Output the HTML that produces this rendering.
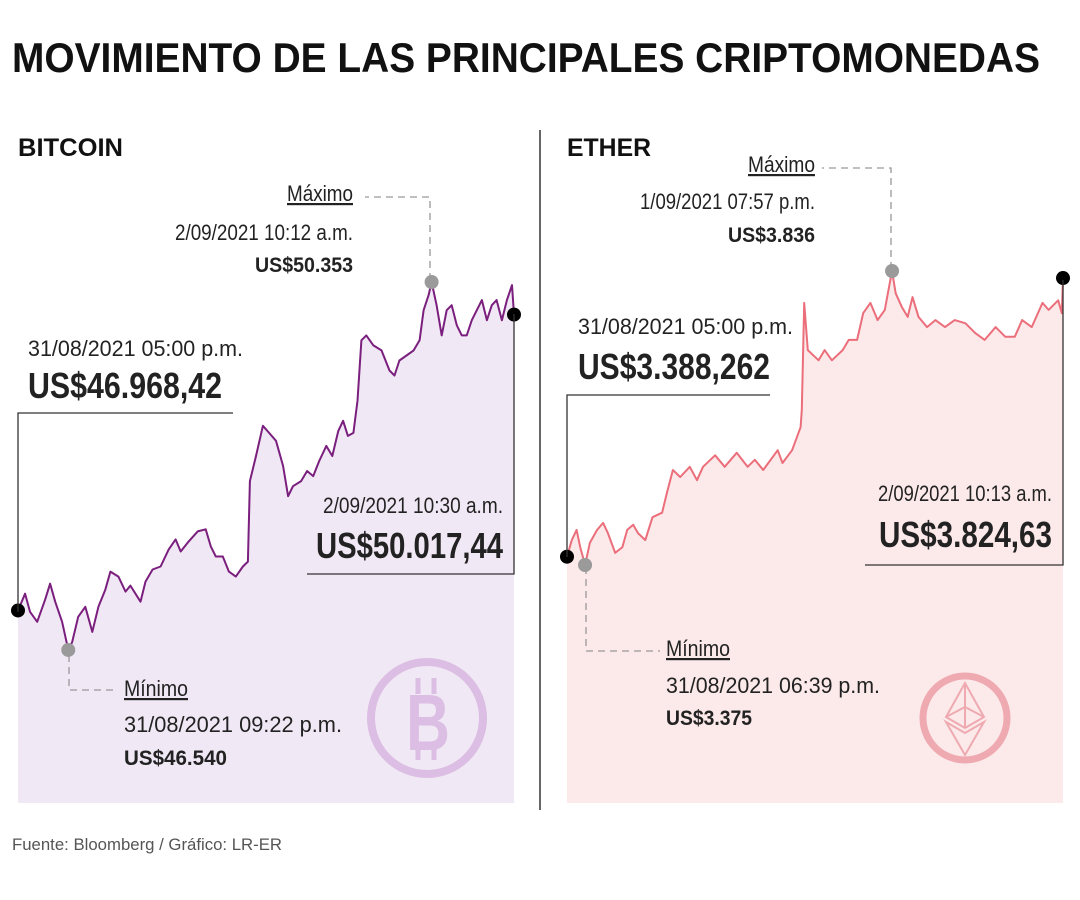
<!DOCTYPE html>
<html><head><meta charset="utf-8"><style>
html,body{margin:0;padding:0;background:#fff;}
svg{display:block;font-family:"Liberation Sans Narrow","Liberation Sans",sans-serif;}
.b{font-weight:bold;}
</style></head><body>
<svg id="c" width="1080" height="900" viewBox="0 0 1080 900">
<text x="12" y="72" font-size="42" class="b" textLength="1028" lengthAdjust="spacingAndGlyphs" fill="#111">MOVIMIENTO DE LAS PRINCIPALES CRIPTOMONEDAS</text>
<text x="18" y="156" font-size="25" class="b" textLength="105" lengthAdjust="spacingAndGlyphs" fill="#111">BITCOIN</text>
<text x="567" y="156" font-size="25" class="b" textLength="84" lengthAdjust="spacingAndGlyphs" fill="#111">ETHER</text>
<line x1="540" y1="130" x2="540" y2="810" stroke="#333" stroke-width="1.5"/>
<g id="btc"></g>
<g id="eth"></g>
<g id="ann">
 <circle cx="427" cy="718" r="56" fill="none" stroke="#dcbde3" stroke-width="8"/>
 <text x="428" y="750" font-size="80" class="b" text-anchor="middle" fill="#dcbde3" textLength="44" lengthAdjust="spacingAndGlyphs" font-family="Liberation Sans,sans-serif">B</text>
 <g stroke="#dcbde3" stroke-width="5">
  <line x1="418" y1="678" x2="418" y2="694"/><line x1="434" y1="678" x2="434" y2="694"/>
  <line x1="418" y1="746" x2="418" y2="760"/><line x1="434" y1="746" x2="434" y2="760"/>
 </g>
 <g fill="none" stroke="#eeaab0" stroke-width="2">
  <circle cx="965" cy="718" r="42" stroke-width="7"/>
  <polygon points="965,683 946,717 965,728 984,717"/>
  <polyline points="946,717 965,707 984,717"/>
  <line x1="965" y1="683" x2="965" y2="728"/>
  <polygon points="946,722 965,755 984,722 965,733"/>
 </g>
 <g stroke="#999" stroke-dasharray="7,5" fill="none" stroke-width="1.3">
  <polyline points="430,280 430,197 365,197"/>
  <polyline points="69,655 69,690 118,690"/>
  <polyline points="891,269 891,168 822,168"/>
  <polyline points="586,567 586,651 660,651"/>
 </g>
 <g stroke="#333" fill="none" stroke-width="1.3">
  <polyline points="18,612 18,413 233,413"/>
  <polyline points="514,314 514,574 307,574"/>
  <polyline points="567,557 567,395 770,395"/>
  <polyline points="1063,280 1063,565 865,565"/>
 </g>
 <g fill="#222" font-size="22">
  <text x="287" y="201" textLength="66" lengthAdjust="spacingAndGlyphs" text-decoration="underline">Máximo</text>
  <text x="175" y="240" textLength="178" lengthAdjust="spacingAndGlyphs">2/09/2021 10:12 a.m.</text>
  <text x="255" y="272" textLength="98" lengthAdjust="spacingAndGlyphs" class="b" font-size="21">US$50.353</text>
  <text x="28" y="356" textLength="215" lengthAdjust="spacingAndGlyphs">31/08/2021 05:00 p.m.</text>
  <text x="28" y="398" class="b" font-size="36" textLength="194" lengthAdjust="spacingAndGlyphs">US$46.968,42</text>
  <text x="323" y="513" textLength="180" lengthAdjust="spacingAndGlyphs">2/09/2021 10:30 a.m.</text>
  <text x="316" y="558" class="b" font-size="36" textLength="187" lengthAdjust="spacingAndGlyphs">US$50.017,44</text>
  <text x="124" y="696" textLength="64" lengthAdjust="spacingAndGlyphs" text-decoration="underline">Mínimo</text>
  <text x="124" y="732" textLength="218" lengthAdjust="spacingAndGlyphs">31/08/2021 09:22 p.m.</text>
  <text x="124" y="765" textLength="103" lengthAdjust="spacingAndGlyphs" class="b" font-size="21">US$46.540</text>

  <text x="748" y="172" textLength="67" lengthAdjust="spacingAndGlyphs" text-decoration="underline">Máximo</text>
  <text x="640" y="209" textLength="175" lengthAdjust="spacingAndGlyphs">1/09/2021 07:57 p.m.</text>
  <text x="728" y="242" textLength="87" lengthAdjust="spacingAndGlyphs" class="b" font-size="21">US$3.836</text>
  <text x="578" y="334" textLength="215" lengthAdjust="spacingAndGlyphs">31/08/2021 05:00 p.m.</text>
  <text x="578" y="379" class="b" font-size="36" textLength="192" lengthAdjust="spacingAndGlyphs">US$3.388,262</text>
  <text x="878" y="501" textLength="174" lengthAdjust="spacingAndGlyphs">2/09/2021 10:13 a.m.</text>
  <text x="879" y="547" class="b" font-size="36" textLength="173" lengthAdjust="spacingAndGlyphs">US$3.824,63</text>
  <text x="666" y="656" textLength="64" lengthAdjust="spacingAndGlyphs" text-decoration="underline">Mínimo</text>
  <text x="666" y="693" textLength="214" lengthAdjust="spacingAndGlyphs">31/08/2021 06:39 p.m.</text>
  <text x="666" y="725" textLength="86" lengthAdjust="spacingAndGlyphs" class="b" font-size="21">US$3.375</text>
 </g>
 <text x="12" y="850" font-size="17" fill="#555" textLength="270" lengthAdjust="spacingAndGlyphs">Fuente: Bloomberg / Gráfico: LR-ER</text>
</g>
</svg>
<script>
const btcHours=[0,.59,1.0,1.6,2.26,2.68,3.1,3.68,4.19,4.52,5.02,5.61,6.19,6.7,7.28,7.7,8.37,8.96,9.37,10.21,10.63,11.22,11.89,12.56,13.14,13.56,14.23,14.98,15.65,16.07,16.49,17.07,17.58,18.16,18.75,19.17,19.33,19.84,20.42,20.93,21.51,22.1,22.52,22.93,23.6,24.1,24.61,25.11,25.7,26.2,26.7,27.1,27.5,27.96,28.3,28.63,29.04,29.63,30.3,30.97,31.39,31.8,32.39,32.98,33.48,33.81,34.23,34.48,34.9,35.32,35.74,36.16,36.58,37.0,37.41,37.83,38.25,38.67,39.09,39.5,39.9,40.34,40.76,41.18,41.35];
const btcPrices=[46968,47141,46954,46851,47079,47244,47058,46851,46561,46644,46903,47006,46747,47006,47182,47369,47317,47162,47224,47058,47265,47390,47421,47597,47700,47576,47680,47783,47804,47628,47524,47524,47369,47317,47421,47472,48301,48560,48871,48798,48716,48457,48146,48249,48301,48405,48353,48508,48664,48560,48819,48923,48767,48798,49130,49752,49803,49700,49648,49441,49389,49544,49596,49648,49752,50062,50218,50353,50114,49803,50062,50114,49907,49803,49803,49959,50062,50166,49959,50114,50166,49959,50166,50321,50017];
const ethHours=[0,.4,.8,1.1,1.5,1.9,2.5,3.0,3.4,4.0,4.6,5.0,5.5,5.9,6.5,7.1,7.9,8.3,8.8,9.4,10.2,10.8,11.3,12.3,13.1,14.1,15.0,15.6,16.3,17.5,17.9,18.7,19.4,19.5,19.7,20.0,20.9,21.4,22.0,22.9,23.4,24.1,24.6,25.2,25.8,26.4,27.0,27.3,27.8,28.3,28.7,29.2,29.9,30.6,31.4,32.2,33.1,33.9,34.7,35.6,36.4,37.2,37.8,38.6,39.5,40.0,40.8,41.1,41.2];
const ethPrices=[3388,3414,3430,3403,3375,3410,3430,3441,3425,3394,3403,3430,3438,3425,3414,3450,3457,3488,3524,3513,3529,3508,3529,3547,3529,3551,3529,3540,3524,3555,3535,3555,3591,3618,3786,3712,3696,3712,3696,3712,3728,3728,3770,3786,3759,3775,3836,3801,3780,3764,3795,3764,3748,3759,3748,3759,3754,3739,3728,3748,3733,3733,3759,3748,3786,3775,3790,3770,3825];
const NS="http://www.w3.org/2000/svg";
function draw(gid,hours,prices,cfg){
  const g=document.getElementById(gid);
  const tmax=hours[hours.length-1];
  const xs=t=>cfg.x0+(t/tmax)*(cfg.x1-cfg.x0);
  const ys=p=>cfg.yMin+(p-cfg.pMin)*(cfg.yMax-cfg.yMin)/(cfg.pMax-cfg.pMin);
  let d="";
  hours.forEach((t,i)=>{d+=(i?"L":"M")+xs(t).toFixed(1)+","+ys(prices[i]).toFixed(1);});
  const area=document.createElementNS(NS,"path");
  area.setAttribute("d",d+"L"+xs(tmax)+","+cfg.bottom+"L"+xs(0)+","+cfg.bottom+"Z");
  area.setAttribute("fill",cfg.fill);
  
  
  g.appendChild(area);
  const line=document.createElementNS(NS,"path");
  line.setAttribute("d",d);line.setAttribute("fill","none");
  line.setAttribute("stroke",cfg.stroke);line.setAttribute("stroke-width","2");line.setAttribute("stroke-linejoin","round");
  
  
  g.appendChild(line);
  let imin=0,imax=0;
  prices.forEach((p,i)=>{if(p<prices[imin])imin=i;if(p>prices[imax])imax=i;});
  const pts=[[0,"#000"],[prices.length-1,"#000"],[imin,"#9a9a9a"],[imax,"#9a9a9a"]];
  pts.forEach(([i,col])=>{
    const c=document.createElementNS(NS,"circle");
    c.setAttribute("cx",xs(hours[i]));c.setAttribute("cy",ys(prices[i]));c.setAttribute("r","7");c.setAttribute("fill",col);
    
    
    g.appendChild(c);
  });
}
draw("btc",btcHours,btcPrices,{x0:18,x1:514,pMin:46540,pMax:50353,yMin:652,yMax:282,bottom:803,fill:"#f1e8f5",stroke:"#7a1f7d"});
draw("eth",ethHours,ethPrices,{x0:567,x1:1063,pMin:3375,pMax:3836,yMin:565,yMax:271,bottom:803,fill:"#fce9ea",stroke:"#eb6e7b"});
</script>
</body></html>
